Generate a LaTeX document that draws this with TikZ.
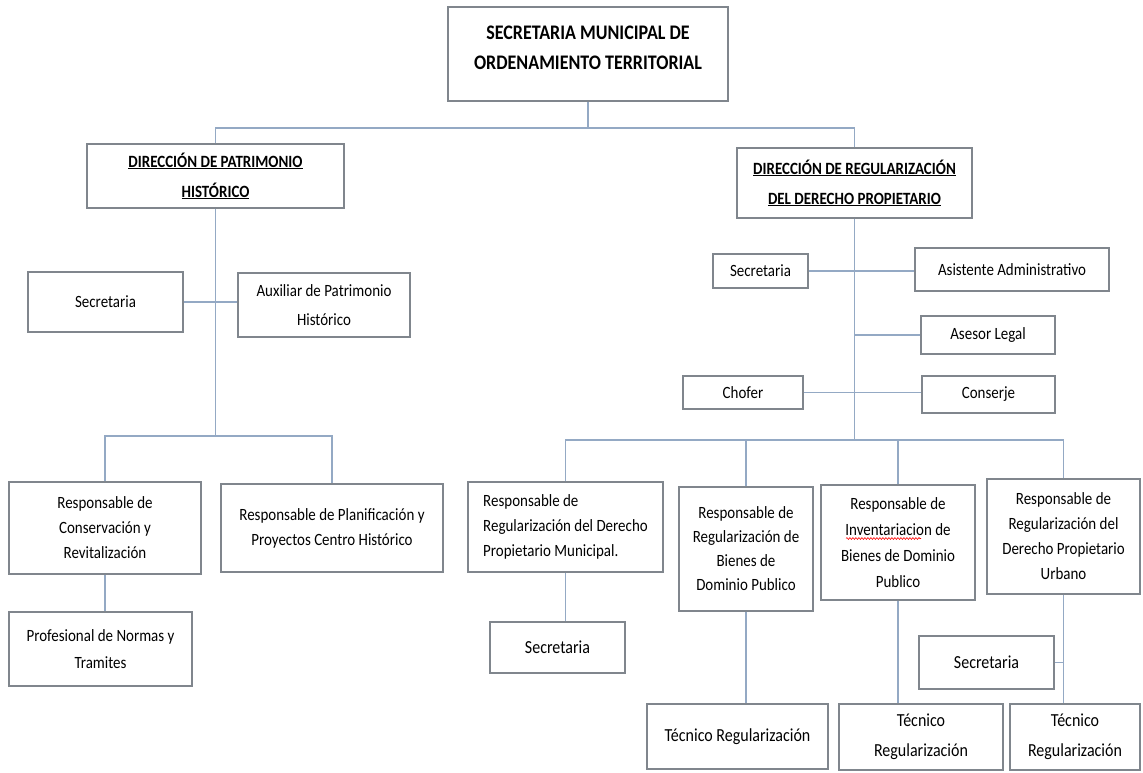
\documentclass[tikz,border=0pt]{standalone}
\usepackage{fontspec}
\setmainfont{Carlito}[FakeStretch=0.87]
\usetikzlibrary{shadows,decorations.pathmorphing}
\definecolor{boxline}{HTML}{80868D}
\definecolor{connblue}{HTML}{94A9C4}
\newcommand\dirfont{\fontsize{17.2}{30}\selectfont\bfseries}
\tikzset{
  orgbox/.style={draw=boxline, line width=1.3pt, fill=white, inner sep=0pt, align=center,
    font=\fontsize{17.2}{25}\selectfont,
    drop shadow={shadow xshift=1.3pt, shadow yshift=-1.3pt, fill=black!30, opacity=0.5}},
  connector/.style={draw=connblue, line width=1.1pt},
  spellwave/.style={draw=red, line width=0.6pt, decorate, decoration={snake, amplitude=0.9pt, segment length=3pt}},
}
\newcommand\obox[7][]{\node[orgbox,minimum width={#5pt-#3pt},minimum height={#6pt-#4pt},#1] (#2) at ({(#3+#5)/2},{(#4+#6)/2}) {#7};}
\begin{document}
\begin{tikzpicture}[x=1pt,y=-1pt]
\useasboundingbox (0,0) rectangle (1143,772);
\coordinate (tj) at (588,128);
\coordinate (lj) at (215.5,436);
\coordinate (rj) at (854.5,440);
% nodes
\obox[label={[font=\fontsize{20.7}{30}\selectfont\bfseries,align=center,yshift=6pt]center:{SECRETARIA MUNICIPAL DE\\ORDENAMIENTO TERRITORIAL}}]{top}{448}{7}{728}{101}{}
\obox[font=\dirfont]{dpat}{87}{144}{344}{208}{\underline{DIRECCIÓN DE PATRIMONIO}\\\underline{HISTÓRICO}}
\obox[font=\dirfont]{dreg}{737}{148}{972}{218}{\underline{DIRECCIÓN DE REGULARIZACIÓN}\\\underline{DEL DERECHO PROPIETARIO}}
\obox{lsec}{28}{272}{183}{332}{Secretaria}
\obox[font=\fontsize{17.2}{29}\selectfont]{laux}{238}{273}{410}{337}{Auxiliar de Patrimonio\\Histórico}
\obox{lcons}{9}{482}{201}{574}{Responsable de\\Conservación y\\Revitalización}
\obox{lplan}{221}{484}{443}{572}{Responsable de Planificación y\\Proyectos Centro Histórico}
\obox[font=\fontsize{17.2}{27}\selectfont]{lprof}{9}{612}{192}{686}{Profesional de Normas y\\Tramites}
\obox{rsec}{713}{254}{808}{288}{Secretaria}
\obox{rasis}{915}{248}{1109}{291}{Asistente Administrativo}
\obox{rases}{921}{316}{1055}{354}{Asesor Legal}
\obox{rchof}{683}{376}{803}{409}{Chofer}
\obox{rcons}{922}{376}{1055}{413}{Conserje}
\obox[align=left]{rrm}{468}{482}{663}{572}{Responsable de\\Regularización del Derecho\\Propietario Municipal.}
\obox[font=\fontsize{17.2}{24}\selectfont]{rrb}{679}{487}{813}{611}{Responsable de\\Regularización de\\Bienes de\\Dominio Publico}
\obox[font=\fontsize{17.2}{26}\selectfont]{rri}{821}{485}{975}{600}{Responsable de\\Inventariacion de\\Bienes de Dominio\\Publico}
\obox{rru}{987}{479}{1140}{594}{Responsable de\\Regularización del\\Derecho Propietario\\Urbano}
\obox[font=\fontsize{18.4}{25}\selectfont]{msec}{490}{622}{625}{673}{Secretaria}
\obox[font=\fontsize{18.4}{30}\selectfont]{tec1}{647}{704}{828}{769}{Técnico Regularización}
\obox[font=\fontsize{18.4}{30}\selectfont]{tec2}{839}{704}{1003}{770}{Técnico\\Regularización}
\obox[font=\fontsize{18.4}{30}\selectfont]{tec3}{1010}{704}{1140}{770}{Técnico\\Regularización}
\obox[font=\fontsize{18.4}{25}\selectfont]{rsec2}{919}{636}{1054}{689}{Secretaria}
% spell-check wave under "Inventariacion"
\draw[spellwave] ([xshift=-52pt,yshift=4pt]rri.center) -- ([xshift=23pt,yshift=4pt]rri.center);
% connectors
\draw[connector] (top.south) -- (top.south |- tj);
\draw[connector] (dpat.north) |- (tj) -| (dreg.north);
\draw[connector] (dpat.south) -- (lj);
\draw[connector] (lsec.east) -- (lsec.east -| laux.west);
\draw[connector] (lcons.north) |- (lj) -| (lplan.north);
\draw[connector] (lcons.south) -- (lcons.south |- lprof.north);
\draw[connector] (dreg.south) -- (rj);
\draw[connector] (rsec.east) -- (rsec.east -| rasis.west);
\draw[connector] (rases.west) -- (rases.west -| rj);
\draw[connector] (rchof.east) -- (rchof.east -| rcons.west);
\draw[connector] (rrm.north) |- (rj) -| (rru.north);
\draw[connector] (rrb.north) -- (rrb.north |- rj);
\draw[connector] (rri.north) -- (rri.north |- rj);
\draw[connector] (rrm.south) -- (rrm.south |- msec.north);
\draw[connector] (rrb.south) -- (rrb.south |- tec1.north);
\draw[connector] (rri.south) -- (rri.south |- tec2.north);
\draw[connector] (rru.south) -- (rru.south |- tec3.north);
\draw[connector] (rsec2.east) -- (rsec2.east -| rru.south);
\end{tikzpicture}
\end{document}
